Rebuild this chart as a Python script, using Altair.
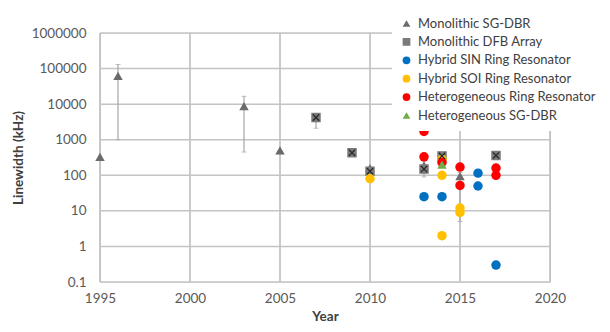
import altair as alt
import pandas as pd

series_names = [
    "Monolithic SG-DBR",
    "Monolithic DFB Array",
    "Hybrid SIN Ring Resonator",
    "Hybrid SOI Ring Resonator",
    "Heterogeneous Ring Resonator",
    "Heterogeneous SG-DBR",
]
series_colors = ["#6b6b6b", "#7a7a7a", "#0070C0", "#FFC000", "#FF0000", "#70AD47"]
series_shapes = ["triangle-up", "square", "circle", "circle", "circle", "triangle-up"]

sg_dbr_years = [1995, 1996, 2003, 2005, 2010, 2013, 2015]
sg_dbr_vals = [330, 62000, 8800, 500, 160, 190, 95]

dfb_years = [2007, 2009, 2010, 2013, 2014, 2017]
dfb_vals = [4200, 430, 130, 150, 350, 360]

sin_years = [2013, 2014, 2016, 2016, 2017]
sin_vals = [25, 25, 115, 50, 0.3]

soi_years = [2010, 2014, 2014, 2014, 2015, 2015]
soi_vals = [80, 280, 100, 2, 12, 9]

het_ring_years = [2013, 2013, 2014, 2015, 2015, 2017, 2017]
het_ring_vals = [1700, 330, 230, 170, 52, 160, 100]

het_sg_years = [2014]
het_sg_vals = [200]

err_years = [1996, 2003, 2007, 2013, 2015]
err_lo = [1000, 450, 2100, 90, 5]
err_hi = [130000, 16600, 5500, 250, 120]

y_ticks = [0.1, 1, 10, 100, 1000, 10000, 100000, 1000000]
x_ticks = [1995, 2000, 2005, 2010, 2015, 2020]

rows = []
for name, ys, vs in zip(
    series_names,
    [sg_dbr_years, dfb_years, sin_years, soi_years, het_ring_years, het_sg_years],
    [sg_dbr_vals, dfb_vals, sin_vals, soi_vals, het_ring_vals, het_sg_vals],
):
    for yr, v in zip(ys, vs):
        rows.append({"Series": name, "Year": yr, "Linewidth": v})
df = pd.DataFrame(rows)
df["order"] = range(len(df))

err_df = pd.DataFrame({"Year": err_years, "lo": err_lo, "hi": err_hi})
xgrid_df = pd.DataFrame({"gx": x_ticks, "gy1": [y_ticks[0]] * len(x_ticks), "gy2": [y_ticks[-1]] * len(x_ticks)})
ygrid_df = pd.DataFrame({"gy": y_ticks, "gx1": [x_ticks[0]] * len(y_ticks), "gx2": [x_ticks[-1]] * len(y_ticks)})

FONT = "Lato"
TXT = "#595959"

xscale = alt.Scale(domain=[1995, 2020], nice=False, zero=False)
yscale = alt.Scale(type="log", domain=[0.1, 1000000], nice=False)

xaxis = alt.Axis(values=x_ticks, format="d", title="Year")
yaxis = alt.Axis(values=y_ticks, title="Linewidth (kHz)",
                 labelExpr="datum.value >= 1 ? format(datum.value, 'd') : format(datum.value, '.1f')")

xgrid = alt.Chart(xgrid_df).mark_rule(color="#b8b8b8", strokeWidth=1.5).encode(
    x=alt.X("gx:Q", scale=xscale, axis=xaxis),
    y=alt.Y("gy1:Q", scale=yscale, axis=yaxis),
    y2="gy2:Q",
)
ygrid = alt.Chart(ygrid_df).mark_rule(color="#c4c4c4", strokeWidth=1.5).encode(
    y=alt.Y("gy:Q", scale=yscale, axis=yaxis),
    x=alt.X("gx1:Q", scale=xscale, axis=xaxis),
    x2="gx2:Q",
)

rules = alt.Chart(err_df).mark_rule(color="#a6a6a6", strokeWidth=1.2).encode(
    x=alt.X("Year:Q", scale=xscale, axis=xaxis),
    y=alt.Y("lo:Q", scale=yscale, axis=yaxis),
    y2="hi:Q",
)
caps_lo = alt.Chart(err_df).mark_tick(color="#a6a6a6", thickness=1, size=5, orient="horizontal").encode(
    x=alt.X("Year:Q", scale=xscale, axis=xaxis), y=alt.Y("lo:Q", scale=yscale, axis=yaxis)
)
caps_hi = alt.Chart(err_df).mark_tick(color="#a6a6a6", thickness=1, size=5, orient="horizontal").encode(
    x=alt.X("Year:Q", scale=xscale, axis=xaxis), y=alt.Y("hi:Q", scale=yscale, axis=yaxis)
)

legend = alt.Legend(
    title=None, orient="none", legendX=292, legendY=-24, fillColor="white",
    padding=8, labelFont=FONT, labelFontSize=13, labelColor="#404040",
    symbolSize=60, labelOffset=5, rowPadding=4.4, symbolStrokeWidth=0, labelLimit=400,
)

points = alt.Chart(df).mark_point(filled=True, size=90, opacity=1).encode(
    x=alt.X("Year:Q", scale=xscale, axis=xaxis),
    y=alt.Y("Linewidth:Q", scale=yscale, axis=yaxis),
    color=alt.Color("Series:N", scale=alt.Scale(domain=series_names, range=series_colors), legend=legend),
    shape=alt.Shape("Series:N", scale=alt.Scale(domain=series_names, range=series_shapes), legend=legend),
    order=alt.Order("order:Q"),
)

crosses = alt.Chart(df).transform_filter(
    alt.datum.Series == "Monolithic DFB Array"
).mark_point(shape="M-1,-1L1,1M1,-1L-1,1", filled=False, size=40, color="#222222", strokeWidth=1.2, opacity=1).encode(
    x=alt.X("Year:Q", scale=xscale, axis=xaxis),
    y=alt.Y("Linewidth:Q", scale=yscale, axis=yaxis),
)

chart = alt.layer(xgrid, ygrid, rules, caps_lo, caps_hi, points, crosses).properties(
    width=450, height=249,
    padding={"left": 92, "top": 25, "right": 50, "bottom": 48},
    autosize=alt.AutoSizeParams(type="none"),
).configure_view(stroke=None).configure(background="white").configure_axis(
    grid=False, domain=False, ticks=False, labelFont=FONT, titleFont=FONT,
    labelFontSize=13.5, titleFontSize=13.5, labelColor=TXT, titleColor="#404040",
    titleFontWeight="bold", labelFlush=False, labelOverlap=False,
).configure_axisX(
    labelPadding=9, titlePadding=5,
).configure_axisY(
    labelPadding=14, titlePadding=6,
)

chart.save("out.html", embed_options={"renderer": "svg", "actions": False})
